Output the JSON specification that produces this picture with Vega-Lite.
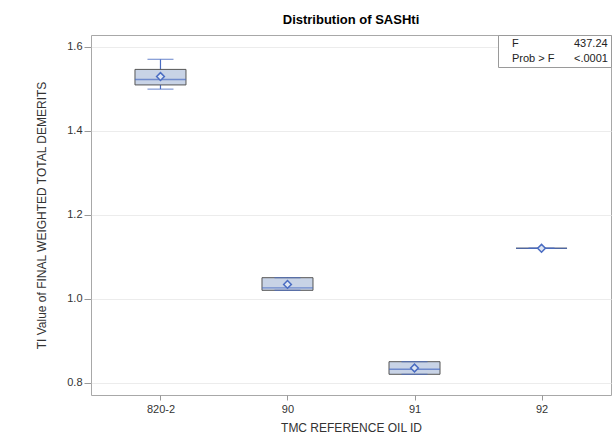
{
  "$schema": "https://vega.github.io/schema/vega-lite/v6.json",
  "autosize": "none",
  "width": 520,
  "height": 360,
  "padding": {"left": 91, "top": 35, "right": 5, "bottom": 53},
  "background": "white",
  "title": {"text": "Distribution of SASHti", "fontSize": 13, "font": "Liberation Sans", "fontWeight": "bold", "color": "#000", "offset": 5, "anchor": "middle"},
  "config": {
    "view": {"stroke": "#a8a8a8", "strokeWidth": 1},
    "axis": {"labelFont": "Liberation Sans", "titleFont": "Liberation Sans", "labelFontSize": 11, "titleFontSize": 12, "titleFontWeight": "normal", "labelColor": "#333", "titleColor": "#333", "tickColor": "#999", "domain": false}
  },
  "data": {"values": [
    {"oil": "820-2", "min": 1.499, "q1": 1.509, "median": 1.522, "q3": 1.546, "max": 1.570, "mean": 1.529},
    {"oil": "90", "min": 1.02, "q1": 1.02, "median": 1.026, "q3": 1.05, "max": 1.05, "mean": 1.034},
    {"oil": "91", "min": 0.82, "q1": 0.82, "median": 0.832, "q3": 0.85, "max": 0.85, "mean": 0.835},
    {"oil": "92", "min": 1.12, "q1": 1.12, "median": 1.12, "q3": 1.12, "max": 1.12, "mean": 1.12}
  ]},
  "encoding": {
    "x": {"field": "oil", "type": "nominal", "sort": ["820-2", "90", "91", "92"],
      "scale": {"type": "point", "padding": 0.547},
      "axis": {"title": "TMC REFERENCE OIL ID", "labelAngle": 0, "tickSize": 5, "labelPadding": 3, "titlePadding": 8, "grid": false}}
  },
  "layer": [
    {
      "mark": {"type": "rule", "color": "#4a6cc2", "strokeWidth": 1.2},
      "encoding": {
        "y": {"field": "min", "type": "quantitative",
          "scale": {"domain": [0.7707, 1.6279], "nice": false, "zero": false},
          "axis": {"title": "TI Value of FINAL WEIGHTED TOTAL DEMERITS", "values": [0.8, 1.0, 1.2, 1.4, 1.6], "format": ".1f", "tickSize": 7, "labelPadding": 2, "titlePadding": 18, "grid": true, "gridColor": "#ececec"}},
        "y2": {"field": "max"}
      }
    },
    {
      "mark": {"type": "bar", "size": 51, "fill": "#c8d3e6", "stroke": "#555555", "strokeWidth": 1},
      "encoding": {"y": {"field": "q1", "type": "quantitative"}, "y2": {"field": "q3"}}
    },
    {
      "mark": {"type": "tick", "color": "#4a6cc2", "size": 26, "thickness": 1.2, "orient": "horizontal"},
      "encoding": {"y": {"field": "min", "type": "quantitative"}}
    },
    {
      "mark": {"type": "tick", "color": "#4a6cc2", "size": 26, "thickness": 1.2, "orient": "horizontal"},
      "encoding": {"y": {"field": "max", "type": "quantitative"}}
    },
    {
      "mark": {"type": "tick", "color": "#4a6cc2", "size": 51, "thickness": 1.3, "orient": "horizontal"},
      "encoding": {"y": {"field": "median", "type": "quantitative"}}
    },
    {
      "mark": {"type": "point", "shape": "diamond", "size": 60, "filled": false, "fill": "#dde5f2", "fillOpacity": 1, "stroke": "#4a6cc2", "strokeWidth": 1.5, "opacity": 1},
      "encoding": {"y": {"field": "mean", "type": "quantitative"}}
    },
    {
      "data": {"values": [{"k": "F"}, {"k": "Prob > F"}, {"k": "437.24"}, {"k": "<.0001"}]},
      "mark": {"type": "point", "opacity": 0},
      "encoding": {
        "x": {"value": 0},
        "y": {"value": 0},
        "color": {"field": "k", "type": "nominal",
          "scale": {"domain": ["F", "Prob > F", "437.24", "<.0001"], "range": ["white", "white", "white", "white"]},
          "legend": {"orient": "top-right", "offset": 0, "title": null, "columns": 2, "symbolSize": 0, "symbolStrokeWidth": 0, "symbolOpacity": 0, "labelOffset": 0, "labelFont": "Liberation Sans", "labelFontSize": 11, "labelColor": "#222", "columnPadding": 8, "rowPadding": 3, "padding": 3, "strokeColor": "#9a9a9a", "fillColor": "white", "cornerRadius": 0}}
      }
    }
  ]
}
